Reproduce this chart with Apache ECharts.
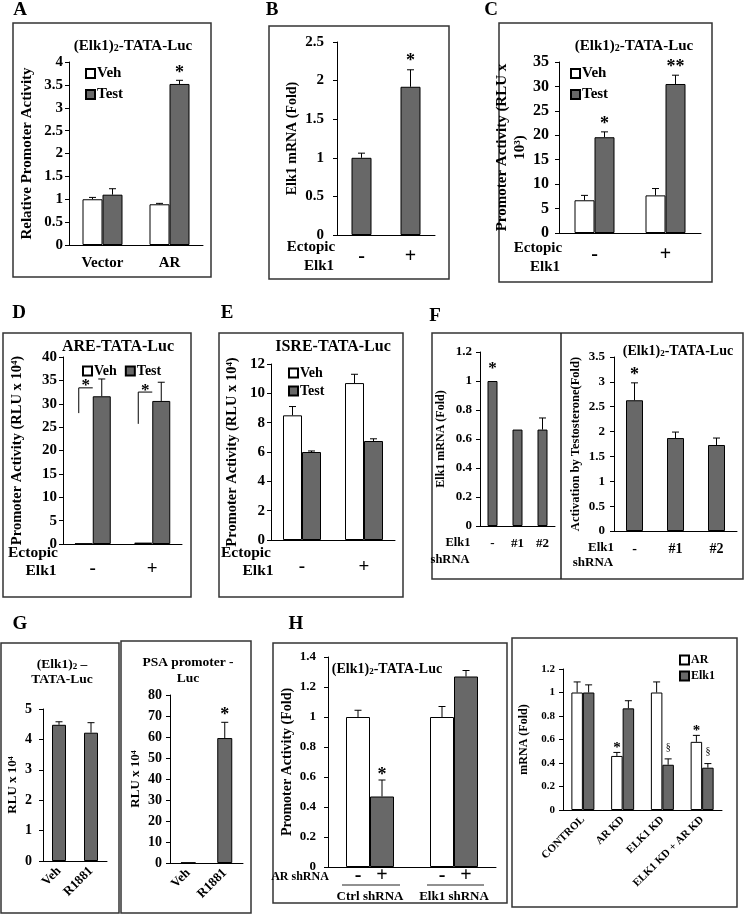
<!DOCTYPE html>
<html>
<head>
<meta charset="utf-8">
<title>Elk1 / AR promoter activity</title>
<script src="https://cdn.jsdelivr.net/npm/echarts@6/dist/echarts.min.js"></script>
<style>
  html, body { margin: 0; padding: 0; background: #fff; }
  #fig { width: 745px; height: 915px; }
</style>
</head>
<body>
<div id="fig"></div>
<script>
// ---------- data ----------
// A
const aCats = ['Vector', 'AR'];
const aVeh = [1.0, 0.89];
const aVehErr = [0.04, 0.02];
const aTest = [1.1, 3.52];
const aTestErr = [0.13, 0.08];
const aTestMark = ['', '*'];
// B
const bCats = ['-', '+'];
const bVal = [1.0, 1.92];
const bErr = [0.06, 0.22];
const bMark = ['', '*'];
// C
const cCats = ['-', '+'];
const cVeh = [6.7, 7.7];
const cVehErr = [1.0, 1.4];
const cTest = [19.6, 30.5];
const cTestErr = [1.1, 1.8];
const cTestMark = ['*', '**'];
// D
const dCats = ['-', '+'];
const dVeh = [0.1, 0.3];
const dVehErr = [0, 0];
const dTest = [31.6, 30.6];
const dTestErr = [3.7, 4.0];
const dBracketLow = [28.0, 25.7];
const dBracketHigh = [33.4, 32.5];
// E
const eCats = ['-', '+'];
const eVeh = [8.5, 10.7];
const eVehErr = [0.6, 0.6];
const eTest = [6.0, 6.75];
const eTestErr = [0.07, 0.15];
// F
const fCats = ['-', '#1', '#2'];
const fMrna = [1.0, 0.665, 0.665];
const fMrnaErr = [0, 0, 0.08];
const fMrnaMark = ['*', '', ''];
const fAct = [2.63, 1.87, 1.73];
const fActErr = [0.35, 0.12, 0.14];
const fActMark = ['*', '', ''];
// G
const gCats = ['Veh', 'R1881'];
const gElk = [4.48, 4.22];
const gElkErr = [0.1, 0.33];
const gPsa = [0.2, 59.5];
const gPsaErr = [0, 7.5];
const gPsaMark = ['', '*'];
// H
const hCats = ['Ctrl shRNA', 'Elk1 shRNA'];
const hMinus = [1.0, 1.0];
const hMinusErr = [0.045, 0.07];
const hPlus = [0.47, 1.27];
const hPlusErr = [0.11, 0.04];
const hPlusMark = ['*', ''];
const hrCats = ['CONTROL', 'AR KD', 'ELK1 KD', 'ELK1 KD + AR KD'];
const hrAR = [1.0, 0.46, 1.0, 0.58];
const hrARErr = [0.09, 0.03, 0.09, 0.055];
const hrARMark = ['', '*', '', '*'];
const hrElk = [1.0, 0.865, 0.385, 0.36];
const hrElkErr = [0.065, 0.065, 0.05, 0.035];
const hrElkMark = ['', '', '§', '§'];

// ---------- helpers ----------
const SERIF = '"Liberation Serif", "Times New Roman", serif';
const WHITE = '#ffffff';
const GREY = '#686868';
const grid = [], xAxis = [], yAxis = [], series = [], legend = [], elements = [];

function errSeries(pi, vals, errs, marks, k, n, bw, mk) {
  return {
    type: 'custom', xAxisIndex: pi, yAxisIndex: pi, silent: true, z: 5,
    data: vals.map(function (v, i) { return [i, v, errs[i]]; }),
    encode: { x: 0, y: 1 },
    renderItem: function (params, api) {
      const i = api.value(0), v = api.value(1), e = api.value(2);
      const p = api.coord([i, v]);
      const x = p[0] + (k - (n - 1) / 2) * bw;
      const top = api.coord([i, v + e])[1];
      const kids = [];
      if (e > 0) {
        kids.push({ type: 'line', shape: { x1: x, y1: p[1], x2: x, y2: top }, style: { stroke: '#000', lineWidth: 1 } });
        kids.push({ type: 'line', shape: { x1: x - 3.5, y1: top, x2: x + 3.5, y2: top }, style: { stroke: '#000', lineWidth: 1 } });
      }
      const m = marks ? marks[params.dataIndex] : '';
      if (m && mk) {
        kids.push({ type: 'text', style: {
          text: m, x: x, y: top - mk.gap + mk.shift * mk.size, align: 'center', verticalAlign: 'middle',
          fill: '#000', fontFamily: SERIF, fontWeight: mk.weight || 'bold', fontSize: mk.size
        } });
      }
      return { type: 'group', children: kids };
    }
  };
}

function panel(o) {
  const i = grid.length;
  grid.push({ left: o.rect[0], top: o.rect[1], width: o.rect[2], height: o.rect[3] });
  xAxis.push({
    type: 'category', gridIndex: i, data: o.cats,
    axisLine: { lineStyle: { color: '#000' } },
    axisTick: { length: 5, lineStyle: { color: '#000' } },
    axisLabel: Object.assign({ interval: 0, color: '#000', fontFamily: SERIF, fontWeight: 'bold', fontSize: 15, margin: 8 }, o.xLabel || {})
  });
  yAxis.push({
    type: 'value', gridIndex: i, min: 0, max: o.max, interval: o.step,
    name: o.yName, nameLocation: 'middle', nameGap: o.nameGap,
    nameTextStyle: { color: '#000', fontFamily: SERIF, fontWeight: 'bold', fontSize: o.nameSize, lineHeight: Math.round(o.nameSize * 1.2) },
    axisLine: { show: true, lineStyle: { color: '#000' } },
    axisTick: { show: true, length: 4, lineStyle: { color: '#000' } },
    splitLine: { show: false },
    axisLabel: { color: '#000', fontFamily: SERIF, fontWeight: 'bold', fontSize: o.ySize, margin: o.yMargin || 6 }
  });
  o.bars.forEach(function (b, k) {
    series.push({
      type: 'bar', name: b.name, xAxisIndex: i, yAxisIndex: i, data: b.vals,
      barWidth: o.bw, barGap: '0%', silent: true,
      itemStyle: { color: b.color, borderColor: '#000', borderWidth: 1 }
    });
    series.push(errSeries(i, b.vals, b.errs, b.marks, k, o.bars.length, o.bw, b.mk || o.mk));
  });
  return i;
}

function addLegend(names, left, top, orient, size, gap) {
  legend.push({
    data: names, left: left, top: top, orient: orient, icon: 'rect', selectedMode: false,
    itemWidth: 9, itemHeight: 9, itemGap: gap, padding: 0,
    textStyle: { fontFamily: SERIF, fontWeight: 'bold', fontSize: size, color: '#000', padding: [0, 0, 0, -3] }
  });
}

function txt(x, y, text, size, extra) {
  elements.push({ type: 'text', silent: true, style: Object.assign({
    x: x, y: y, text: text, fill: '#000', fontFamily: SERIF, fontWeight: 'bold', fontSize: size,
    align: 'center', verticalAlign: 'middle'
  }, extra || {}) });
}

function elkText(x, y, size, tail) {
  const sub = Math.round(size * 0.65);
  elements.push({ type: 'text', silent: true, style: {
    x: x, y: y + 1, text: '{m|(Elk1)}{s|2}{m|' + tail + '}', align: 'center', verticalAlign: 'middle',
    fill: '#000', fontFamily: SERIF, fontWeight: 'bold', fontSize: size,
    rich: {
      m: { fontFamily: SERIF, fontWeight: 'bold', fontSize: size, lineHeight: size, verticalAlign: 'top', padding: [0, 0, 2, 0] },
      s: { fontFamily: SERIF, fontWeight: 'bold', fontSize: sub, lineHeight: sub, verticalAlign: 'bottom' }
    }
  } });
}

function box(x1, y1, x2, y2) {
  elements.push({ type: 'rect', silent: true, shape: { x: x1, y: y1, width: x2 - x1, height: y2 - y1 },
    style: { fill: 'none', stroke: '#333', lineWidth: 1.5 } });
}

function seg(x1, y1, x2, y2, w) {
  elements.push({ type: 'line', silent: true, shape: { x1: x1, y1: y1, x2: x2, y2: y2 },
    style: { stroke: '#222', lineWidth: w || 1.5 } });
}

const starMk = function (size, gap) { return { size: size, gap: gap, shift: 0.19 }; };
const pmLabel = { fontSize: 20, margin: 12 };

// ---------- panels ----------
// A
panel({
  rect: [69, 62, 134, 183], cats: aCats, max: 4, step: 0.5, bw: 20,
  yName: 'Relative Promoter Activity', nameGap: 33, nameSize: 15, ySize: 15, yMargin: 6,
  xLabel: { fontSize: 15, margin: 11 },
  bars: [
    { name: 'Veh', vals: aVeh, errs: aVehErr, color: WHITE },
    { name: 'Test', vals: aTest, errs: aTestErr, marks: aTestMark, color: GREY, mk: starMk(18, 10) }
  ]
});
// B
panel({
  rect: [337, 42, 98, 193], cats: bCats, max: 2.5, step: 0.5, bw: 20,
  yName: 'Elk1 mRNA (Fold)', nameGap: 36, nameSize: 14, ySize: 15, yMargin: 13, xLabel: pmLabel,
  bars: [{ name: 'Elk1', vals: bVal, errs: bErr, marks: bMark, color: GREY, mk: starMk(18, 12) }]
});
// C
panel({
  rect: [559, 62, 142, 171], cats: cCats, max: 35, step: 5, bw: 20,
  yName: 'Promoter Activity (RLU x\n10\u00b3)', nameGap: 24, nameSize: 15, ySize: 16, yMargin: 10, xLabel: pmLabel,
  bars: [
    { name: 'Veh', vals: cVeh, errs: cVehErr, color: WHITE },
    { name: 'Test', vals: cTest, errs: cTestErr, marks: cTestMark, color: GREY, mk: starMk(18, 11) }
  ]
});
// D
const dIdx = panel({
  rect: [63, 357, 119, 187], cats: dCats, max: 40, step: 5, bw: 18,
  yName: 'Promoter Activity (RLU x 10\u2074)', nameGap: 37, nameSize: 14.5, ySize: 15, yMargin: 6,
  xLabel: { fontSize: 19, margin: 16 },
  bars: [
    { name: 'Veh', vals: dVeh, errs: dVehErr, color: WHITE },
    { name: 'Test', vals: dTest, errs: dTestErr, color: GREY }
  ]
});
// significance brackets of D
series.push({
  type: 'custom', xAxisIndex: dIdx, yAxisIndex: dIdx, silent: true, z: 6,
  data: dBracketLow.map(function (v, i) { return [i, v, dBracketHigh[i]]; }),
  encode: { x: 0, y: [1, 2] },
  renderItem: function (params, api) {
    const i = api.value(0);
    const lo = api.coord([i, api.value(1)]);
    const hi = api.coord([i, api.value(2)]);
    const xr = lo[0], xl = lo[0] - 14;
    return { type: 'group', children: [
      { type: 'polyline', shape: { points: [[xl, lo[1]], [xl, hi[1]], [xr, hi[1]]] }, style: { stroke: '#000', lineWidth: 1, fill: null } },
      { type: 'text', style: { text: '*', x: (xl + xr) / 2, y: hi[1] - 5 + 0.19 * 17, align: 'center', verticalAlign: 'middle', fill: '#000', fontFamily: SERIF, fontWeight: 'bold', fontSize: 17 } }
    ] };
  }
});
// E
panel({
  rect: [271, 364, 124, 176], cats: eCats, max: 12, step: 2, bw: 19,
  yName: 'Promoter Activity (RLU x 10\u2074)', nameGap: 30, nameSize: 14.5, ySize: 15, yMargin: 6,
  xLabel: { fontSize: 19, margin: 18 },
  bars: [
    { name: 'Veh', vals: eVeh, errs: eVehErr, color: WHITE },
    { name: 'Test', vals: eTest, errs: eTestErr, color: GREY }
  ]
});
// F left
panel({
  rect: [480, 352, 75, 174], cats: fCats, max: 1.2, step: 0.2, bw: 10,
  yName: 'Elk1 mRNA (Fold)', nameGap: 32, nameSize: 12, ySize: 13, yMargin: 8,
  xLabel: { fontSize: 13, margin: 11 },
  bars: [{ name: 'Elk1 mRNA', vals: fMrna, errs: fMrnaErr, marks: fMrnaMark, color: GREY, mk: starMk(17, 16) }]
});
// F right
panel({
  rect: [614, 357, 123, 174], cats: fCats, max: 3.5, step: 0.5, bw: 17,
  yName: 'Activation by Testosterone(Fold)', nameGap: 31, nameSize: 12.5, ySize: 13, yMargin: 9,
  xLabel: { fontSize: 14, margin: 11 },
  bars: [{ name: 'Activation', vals: fAct, errs: fActErr, marks: fActMark, color: GREY, mk: starMk(18, 11) }]
});
// G left
panel({
  rect: [43, 709, 64, 152], cats: gCats, max: 5, step: 1, bw: 14,
  yName: 'RLU x 10\u2074', nameGap: 22, nameSize: 13, ySize: 14, yMargin: 11,
  xLabel: { fontSize: 13, margin: 8, rotate: 45 },
  bars: [{ name: 'ElkLuc', vals: gElk, errs: gElkErr, color: GREY }]
});
// G right
panel({
  rect: [170, 695, 73, 168], cats: gCats, max: 80, step: 10, bw: 15,
  yName: 'RLU x 10\u2074', nameGap: 25, nameSize: 13, ySize: 14, yMargin: 8,
  xLabel: { fontSize: 13, margin: 8, rotate: 45 },
  bars: [{ name: 'PsaLuc', vals: gPsa, errs: gPsaErr, marks: gPsaMark, color: GREY, mk: starMk(18, 10) }]
});
// H left
panel({
  rect: [328, 657, 168, 210], cats: hCats, max: 1.4, step: 0.2, bw: 24,
  yName: 'Promoter Activity (Fold)', nameGap: 28, nameSize: 14, ySize: 13, yMargin: 12,
  xLabel: {
    margin: 1,
    formatter: function (v) { return '{pm|-}{pm|+}\n{u|' + v + '}'; },
    rich: {
      pm: { width: 24, align: 'center', fontSize: 20, lineHeight: 16, fontFamily: SERIF, fontWeight: 'bold' },
      u: { fontSize: 13, lineHeight: 26, fontFamily: SERIF, fontWeight: 'bold' }
    }
  },
  bars: [
    { name: 'AR shRNA -', vals: hMinus, errs: hMinusErr, color: WHITE },
    { name: 'AR shRNA +', vals: hPlus, errs: hPlusErr, marks: hPlusMark, color: GREY, mk: starMk(18, 8) }
  ]
});
// H right
panel({
  rect: [563, 669, 159, 141], cats: hrCats, max: 1.2, step: 0.2, bw: 11.5,
  yName: 'mRNA (Fold)', nameGap: 32, nameSize: 12, ySize: 11, yMargin: 8,
  xLabel: { fontSize: 11, margin: 8, rotate: 45 },
  bars: [
    { name: 'AR', vals: hrAR, errs: hrARErr, marks: hrARMark, color: WHITE, mk: starMk(15, 7) },
    { name: 'Elk1', vals: hrElk, errs: hrElkErr, marks: hrElkMark, color: GREY, mk: { size: 10, gap: 12, shift: 0, weight: 'normal' } }
  ]
});

// ---------- legends ----------
addLegend(['Veh', 'Test'], 85, 66, 'vertical', 15, 6);
addLegend(['Veh', 'Test'], 570, 66, 'vertical', 15, 6);
addLegend(['Veh', 'Test'], 82, 364, 'horizontal', 14, 8);
addLegend(['Veh', 'Test'], 288, 366, 'vertical', 14, 4);
addLegend(['AR', 'Elk1'], 679, 654, 'vertical', 12, 4);

// ---------- frames, panel letters, titles, side labels ----------
box(13, 23, 211, 277);
box(269, 26, 449, 279);
box(499, 23, 712, 282);
box(3, 333, 191, 597);
box(219, 333, 403, 597);
box(432, 333, 743, 579);
seg(561, 333, 561, 579);
box(1, 643, 119, 913);
box(121, 641, 251, 913);
box(273, 643, 507, 903);
box(512, 638, 737, 907);

[['A', 20, 10], ['B', 272, 10], ['C', 491, 10], ['D', 19, 313], ['E', 227, 313],
 ['F', 435, 316], ['G', 20, 624], ['H', 296, 624]].forEach(function (l) {
  txt(l[1], l[2], l[0], 19);
});

elkText(133, 45, 15, '-TATA-Luc');
elkText(634, 45, 15, '-TATA-Luc');
txt(118, 347, 'ARE-TATA-Luc', 16);
txt(333, 347, 'ISRE-TATA-Luc', 16);
elkText(678, 350, 14, '-TATA-Luc');
elkText(62, 663, 13.5, ' \u2013');
txt(62, 680, 'TATA-Luc', 13.5);
txt(188, 663, 'PSA promoter -', 13.5);
txt(188, 679, 'Luc', 13.5);
elkText(387, 668, 14, '-TATA-Luc');

txt(311, 247, 'Ectopic', 15);
txt(319, 266, 'Elk1', 15);
txt(538, 248, 'Ectopic', 15);
txt(545, 267, 'Elk1', 15);
txt(33, 553, 'Ectopic', 15.5);
txt(41, 571, 'Elk1', 15.5);
txt(246, 553, 'Ectopic', 15.5);
txt(258, 571, 'Elk1', 15.5);
txt(458, 543, 'Elk1', 12.5);
txt(450, 560, 'shRNA', 12.5);
txt(601, 548, 'Elk1', 13);
txt(593, 563, 'shRNA', 13);
txt(300, 877, 'AR shRNA', 12);
// group underlines under the -/+ pairs of H
seg(342, 885, 400, 885, 1);
seg(427, 885, 484, 885, 1);

const chart = echarts.init(document.getElementById('fig'));
chart.setOption({
  animation: false,
  backgroundColor: '#fff',
  textStyle: { fontFamily: SERIF },
  grid: grid,
  xAxis: xAxis,
  yAxis: yAxis,
  legend: legend,
  series: series,
  graphic: { elements: elements }
});
</script>
</body>
</html>
